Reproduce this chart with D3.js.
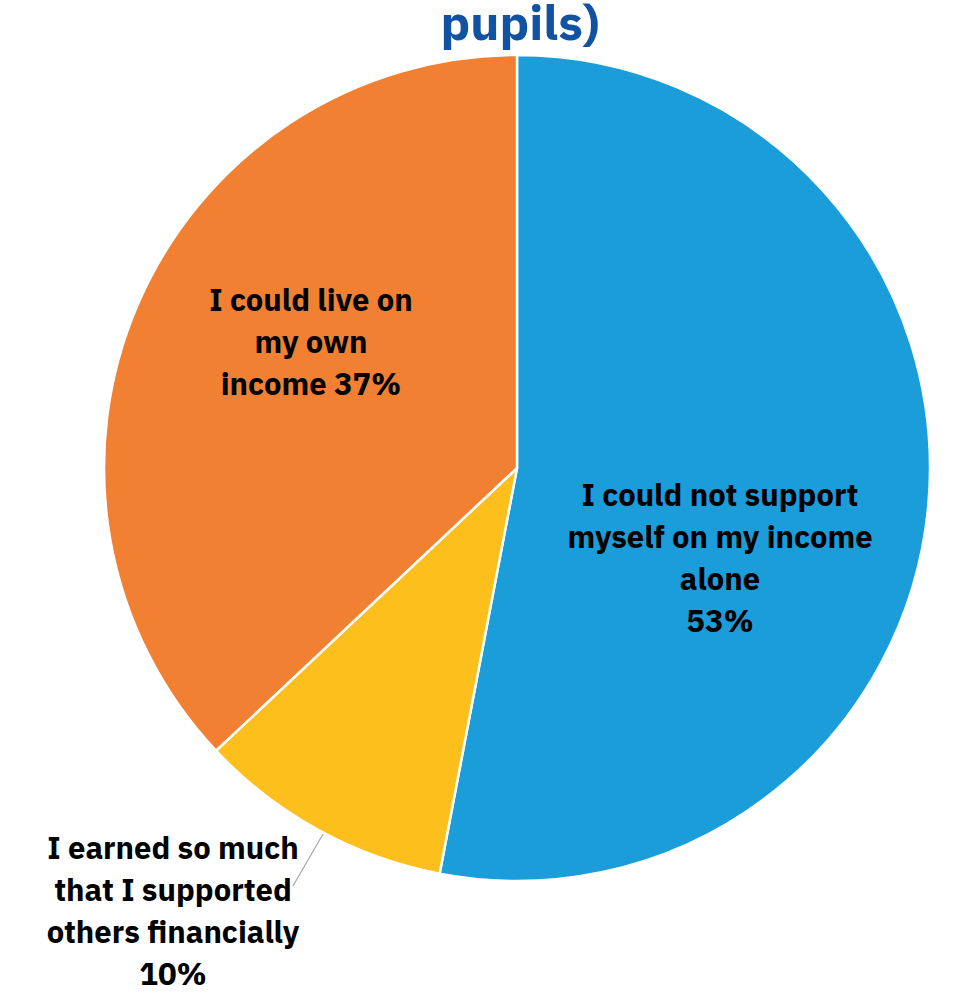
<!DOCTYPE html>
<html>
<head>
<meta charset="utf-8">
<script src="https://cdn.jsdelivr.net/npm/d3@7"></script>
<style>
  html, body { margin: 0; padding: 0; background: #fff; }
  svg { display: block; }
</style>
</head>
<body>
<svg id="chart" width="973" height="1000"></svg>
<script>
// Shares of respondents by how well their income supported them
const categories = [
  "I could not support myself on my income alone",
  "I earned so much that I supported others financially",
  "I could live on my own income"
];
const values = [53, 10, 37];
const colors = ["#1b9dd9", "#fdbf1c", "#f28033"];
// Label lines for each slice
const labelLines = [
  ["I could not support", "myself on my income", "alone", "53%"],
  ["I earned so much", "that I supported", "others financially", "10%"],
  ["I could live on", "my own", "income 37%"]
];
const titleText = "pupils)";

const width = 973, height = 1000;
const cx = 517, cy = 468, radius = 413;
const fontFamily = "'IBM Plex Sans', Roboto, 'Open Sans', sans-serif";

const svg = d3.select("#chart");

svg.append("text")
  .attr("x", 520).attr("y", 40)
  .attr("text-anchor", "middle")
  .attr("font-family", fontFamily)
  .attr("font-weight", 700)
  .attr("font-size", 49)
  .attr("fill", "#1152a2")
  .text(titleText);

const pie = d3.pie().sort(null).value(d => d)(values);
const arc = d3.arc().innerRadius(0).outerRadius(radius);

const g = svg.append("g").attr("transform", `translate(${cx},${cy})`);

g.selectAll("path.slice")
  .data(pie)
  .join("path")
  .attr("class", "slice")
  .attr("d", arc)
  .attr("fill", (d, i) => colors[i])
  .attr("stroke", "#ffffff")
  .attr("stroke-width", 2.5)
  .attr("stroke-linejoin", "round");

// Label centres (relative to page) for each slice
const labelPos = [[720, 558], [173, 911], [311, 342]];
const lineHeight = 42;

// Leader line for the small slice's outside label
g.append("line")
  .attr("x1", 323 - cx).attr("y1", 834 - cy)
  .attr("x2", 293 - cx).attr("y2", 886 - cy)
  .attr("stroke", "#a6a6a6").attr("stroke-width", 1.2);

pie.forEach((d, i) => {
  const x = labelPos[i][0] - cx;
  const y = labelPos[i][1] - cy;
  const lines = labelLines[i];
  const t = g.append("text")
    .attr("text-anchor", "middle")
    .attr("font-family", fontFamily)
    .attr("font-weight", 700)
    .attr("font-size", 31)
    .attr("fill", "#000");
  const n = lines.length;
  lines.forEach((ln, k) => {
    t.append("tspan")
      .attr("x", x)
      .attr("y", y + (k - (n - 1) / 2) * lineHeight)
      .attr("dy", "0.35em")
      .text(ln);
  });
});
</script>
</body>
</html>
